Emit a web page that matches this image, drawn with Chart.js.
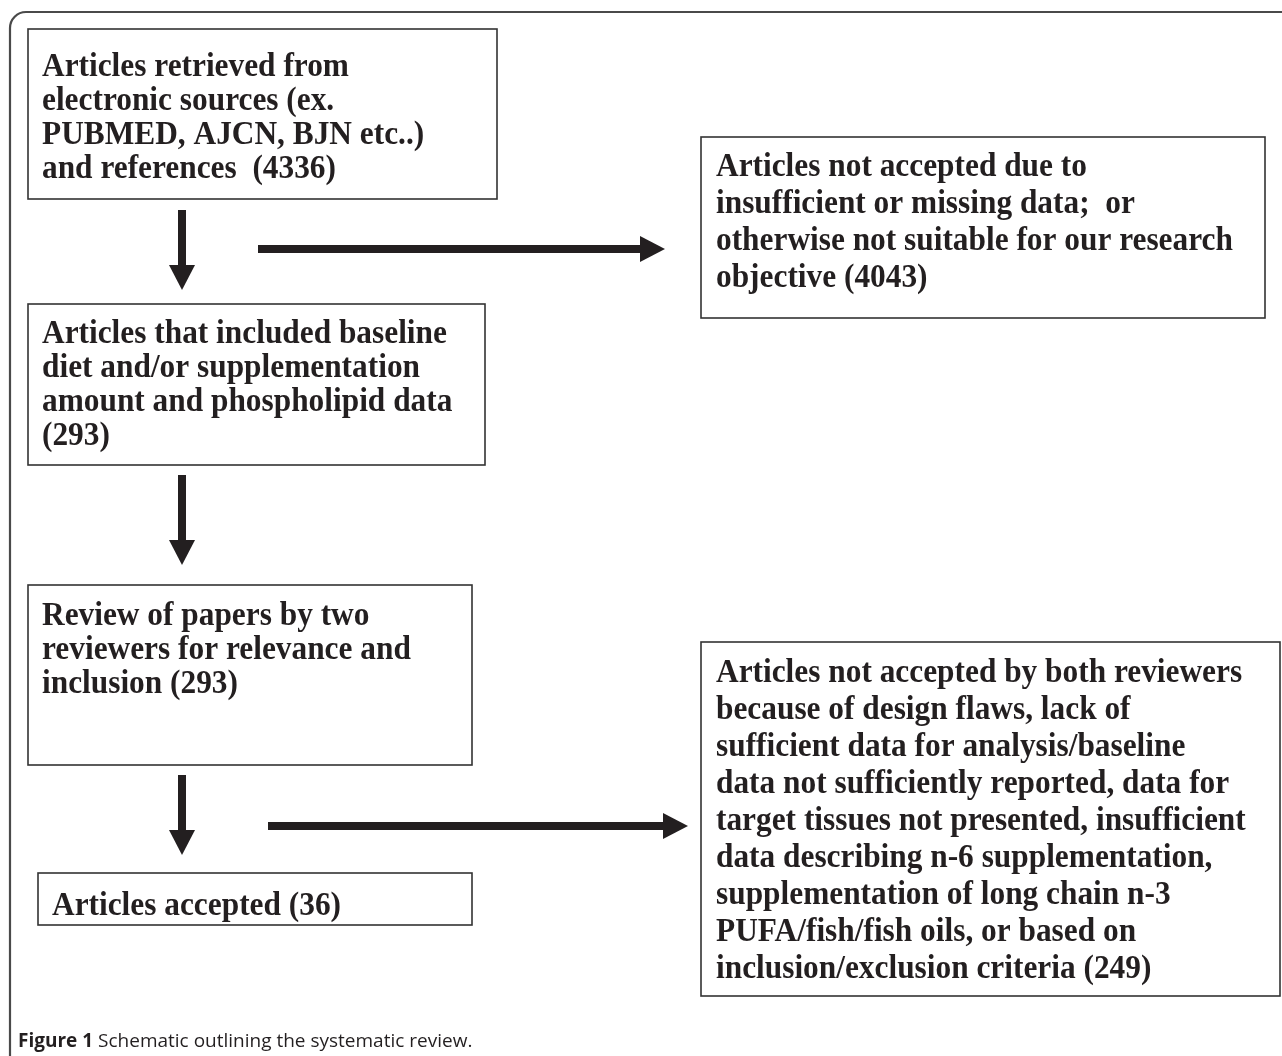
<!DOCTYPE html>
<html><head><meta charset="utf-8">
<script src="https://cdn.jsdelivr.net/npm/chart.js@4.4.0/dist/chart.umd.min.js"></script>
<style>html,body{margin:0;padding:0;background:#fff;overflow:hidden}#wrap{width:1282px;height:1056px;position:relative}</style>
</head><body><div id="wrap"><canvas id="c" width="1282" height="1056"></canvas></div>
<script>
// ---- content ----
const stepTexts = [
  ["Articles retrieved from", "electronic sources (ex.", "PUBMED, AJCN, BJN etc..)", "and references "],
  ["Articles that included baseline", "diet and/or supplementation", "amount and phospholipid data", ""],
  ["Review of papers by two", "reviewers for relevance and", "inclusion"],
  ["Articles accepted"]
];
const stepCounts = [4336, 293, 293, 36];
const exclusionTexts = [
  ["Articles not accepted due to", "insufficient or missing data;  or", "otherwise not suitable for our research", "objective"],
  ["Articles not accepted by both reviewers", "because of design flaws, lack of", "sufficient data for analysis/baseline",
   "data not sufficiently reported, data for", "target tissues not presented, insufficient",
   "data describing n-6 supplementation,", "supplementation of long chain n-3",
   "PUFA/fish/fish oils, or based on", "inclusion/exclusion criteria"]
];
const exclusionCounts = [4043, 249];
const captionLabel = "Figure 1";
const captionText = " Schematic outlining the systematic review.";

// ---- layout (canvas units on the hidden linear scales) ----
const stepBoxes = [
  {x0: 28, x1: 497, y0: 29,  y1: 199, tx: 42, by: 76,  lh: 34},
  {x0: 28, x1: 485, y0: 304, y1: 465, tx: 42, by: 343, lh: 34},
  {x0: 28, x1: 472, y0: 585, y1: 765, tx: 42, by: 625, lh: 34},
  {x0: 38, x1: 472, y0: 873, y1: 925, tx: 52, by: 915, lh: 34}
];
const exclusionBoxes = [
  {x0: 701, x1: 1265, y0: 137, y1: 318, tx: 716, by: 176, lh: 37},
  {x0: 701, x1: 1280, y0: 642, y1: 996, tx: 716, by: 682, lh: 37}
];
const downArrows = [[182, 210, 290], [182, 475, 565], [182, 775, 855]];
const sideArrows = [[258, 665, 249], [268, 688, 826]];
const INK = '#231f20';

function lineWithCount(lines, count) {
  return lines.map((l, i) => {
    if (i < lines.length - 1) return l;
    return l === '' ? '(' + count + ')' : l + ' (' + count + ')';
  });
}

const flowPlugin = {
  id: 'flow',
  afterDraw(chart) {
    const ctx = chart.ctx, X = chart.scales.x, Y = chart.scales.y;
    const px = v => X.getPixelForValue(v), py = v => Y.getPixelForValue(v);
    ctx.save();
    // outer frame (top + left, rounded corner)
    ctx.strokeStyle = '#4a4a4a'; ctx.lineWidth = 2.2;
    ctx.beginPath();
    ctx.moveTo(px(10), py(1056));
    ctx.lineTo(px(10), py(28));
    ctx.arcTo(px(10), py(12), px(26), py(12), 16);
    ctx.lineTo(px(1282), py(12));
    ctx.stroke();

    function box(b, lines, size) {
      ctx.strokeStyle = '#333'; ctx.lineWidth = 1.6;
      ctx.strokeRect(px(b.x0), py(b.y0), px(b.x1) - px(b.x0), py(b.y1) - py(b.y0));
      ctx.fillStyle = INK;
      ctx.font = 'bold ' + size + 'px "Liberation Serif", "Times New Roman", serif';
      ctx.textBaseline = 'alphabetic'; ctx.textAlign = 'left';
      lines.forEach((t, i) => {
        ctx.save();
        ctx.translate(px(b.tx), py(b.by + i * b.lh));
        ctx.scale(0.95, 1);
        ctx.fillText(t, 0, 0);
        ctx.restore();
      });
    }
    stepBoxes.forEach((b, i) => box(b, lineWithCount(stepTexts[i], stepCounts[i]), 33));
    exclusionBoxes.forEach((b, i) => box(b, lineWithCount(exclusionTexts[i], exclusionCounts[i]), 33));

    ctx.fillStyle = INK;
    const sw = 8, hl = 25, hw = 13;
    downArrows.forEach(([x, y0, y1]) => {
      const cx = px(x), a = py(y0), t = py(y1);
      ctx.fillRect(cx - sw / 2, a, sw, t - hl - a + 1);
      ctx.beginPath(); ctx.moveTo(cx - hw, t - hl); ctx.lineTo(cx + hw, t - hl); ctx.lineTo(cx, t); ctx.closePath(); ctx.fill();
    });
    sideArrows.forEach(([x0, x1, y]) => {
      const cy = py(y), a = px(x0), t = px(x1);
      ctx.fillRect(a, cy - sw / 2, t - hl - a + 1, sw);
      ctx.beginPath(); ctx.moveTo(t - hl, cy - hw); ctx.lineTo(t - hl, cy + hw); ctx.lineTo(t, cy); ctx.closePath(); ctx.fill();
    });

    // caption
    ctx.fillStyle = INK;
    ctx.font = 'bold 19px "Open Sans", "Noto Sans", sans-serif';
    ctx.fillText(captionLabel, px(18), py(1047));
    const w = ctx.measureText(captionLabel).width;
    ctx.font = '19px "Open Sans", "Noto Sans", sans-serif';
    ctx.fillText(captionText, px(18) + w, py(1047));
    ctx.restore();
  }
};

new Chart(document.getElementById('c').getContext('2d'), {
  type: 'scatter',
  data: {datasets: [{data: []}]},
  options: {
    responsive: false, animation: false, events: [],
    layout: {padding: 0},
    plugins: {legend: {display: false}, tooltip: {enabled: false}},
    scales: {
      x: {type: 'linear', min: 0, max: 1282, display: false},
      y: {type: 'linear', min: 0, max: 1056, reverse: true, display: false}
    }
  },
  plugins: [flowPlugin]
});
</script></body></html>
